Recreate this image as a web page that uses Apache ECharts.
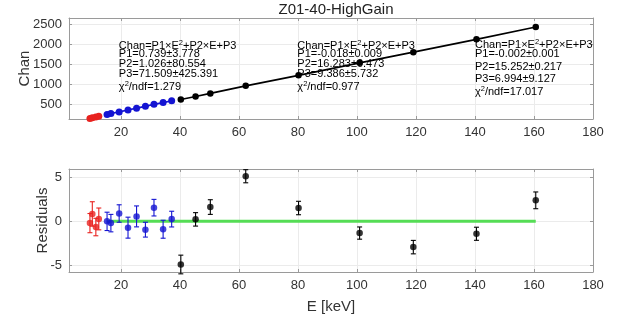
<!DOCTYPE html>
<html>
<head>
<meta charset="utf-8">
<script src="https://cdn.jsdelivr.net/npm/echarts@6/dist/echarts.min.js"></script>
<style>
  html, body { margin: 0; padding: 0; background: #fff; }
  #chart { width: 627px; height: 320px; }
</style>
</head>
<body>
<div id="chart"></div>
<script>
// Energy calibration, three quadratic fit ranges (low / mid / high energy)
const redE     = [9.5, 10.3, 11.5, 12.5];
const redChan  = [150, 165, 185, 205];
const redRes   = [-0.2, 0.85, -0.65, 0.28];
const redErr   = [1.1, 1.4, 1.0, 1.25];

const blueE    = [15.3, 16.6, 19.4, 22.4, 25.3, 28.3, 31.2, 34.3, 37.2];
const blueChan = [250, 272, 312, 360, 405, 450, 500, 543, 590];
const blueRes  = [0.0, -0.2, 0.9, -0.72, 0.57, -0.95, 1.57, -0.9, 0.26];
const blueErr  = [1.05, 1.0, 1.0, 1.2, 1.2, 0.85, 0.95, 1.03, 0.9];

const blackE    = [40.3, 45.3, 50.3, 62.3, 80.2, 100.9, 119.1, 140.5, 160.6];
const blackChan = [620, 697, 773, 960, 1222, 1533, 1800, 2118, 2425];
const blackRes  = [-4.94, 0.23, 1.64, 5.17, 1.53, -1.34, -2.95, -1.42, 2.41];
const blackErr  = [1.07, 0.77, 0.84, 0.75, 0.77, 0.7, 0.77, 0.75, 0.96];

// Axis ticks
const eTicks    = [20, 40, 60, 80, 100, 120, 140, 160, 180];
const chanTicks = [500, 1000, 1500, 2000, 2500];
const resTicks  = [-5, 0, 5];

// Fit result texts
const redFit   = ['P1=0.739±3.778', 'P2=1.026±80.554', 'P3=71.509±425.391', '1.279'];
const blueFit  = ['P1=-0.018±0.009', 'P2=16.283±0.473', 'P3=9.386±5.732', '0.977'];
const blackFit = ['P1=-0.002±0.001', 'P2=15.252±0.217', 'P3=6.994±9.127', '17.017'];

const FONT = '"Liberation Sans", Arial, Helvetica, sans-serif';
const RED = '#e8221f', BLUE = '#1414d2', BLACK = '#000000';
const GRID_LINE = '#ebebeb', AXIS_LINE = '#9a9a9a', LABEL = '#333333';

const zip = (a, b) => a.map((v, i) => [v, b[i]]);
const zip3 = (a, b, c) => a.map((v, i) => [v, b[i], c[i]]);

function valueAxis(gridIndex, pos, min, max, ticks, showLabels, extra) {
  return Object.assign({
    type: 'value', gridIndex, position: pos, min, max,
    nameMoveOverlap: false,
    axisLine: { show: true, onZero: false, lineStyle: { color: AXIS_LINE, width: 1 } },
    axisTick: { show: true, inside: true, length: 3, customValues: ticks,
                lineStyle: { color: AXIS_LINE } },
    axisLabel: { show: showLabels, customValues: ticks, color: LABEL, fontSize: 13,
                 fontFamily: FONT, margin: 7, formatter: (v) => String(v) },
    splitLine: { show: showLabels, lineStyle: { color: GRID_LINE, width: 1 } }
  }, extra || {});
}

function errorBars(color) {
  return function (params, api) {
    const x = api.value(0), y = api.value(1), e = api.value(2);
    const lo = api.coord([x, y - e]);
    const hi = api.coord([x, y + e]);
    const w = 2.5;
    const st = { stroke: color, lineWidth: 1.1 };
    return {
      type: 'group',
      children: [
        { type: 'line', shape: { x1: lo[0], y1: lo[1], x2: hi[0], y2: hi[1] }, style: st },
        { type: 'line', shape: { x1: lo[0] - w, y1: lo[1], x2: lo[0] + w, y2: lo[1] }, style: st },
        { type: 'line', shape: { x1: hi[0] - w, y1: hi[1], x2: hi[0] + w, y2: hi[1] }, style: st }
      ]
    };
  };
}

function errSeries(E, R, Err, color) {
  return {
    type: 'custom', xAxisIndex: 2, yAxisIndex: 2,
    renderItem: errorBars(color), data: zip3(E, R, Err),
    encode: { x: 0, y: 1 }, z: 3, silent: true
  };
}
function resPoints(E, R, color) {
  return {
    type: 'scatter', xAxisIndex: 2, yAxisIndex: 2, data: zip(E, R),
    symbol: 'circle', symbolSize: 6.5, itemStyle: { color }, z: 4, silent: true
  };
}
function calLine(E, C, color, size) {
  return {
    type: 'line', xAxisIndex: 0, yAxisIndex: 0, data: zip(E, C),
    symbol: 'circle', symbolSize: size, showSymbol: true,
    lineStyle: { color, width: 1.6 }, itemStyle: { color }, z: 3, silent: true
  };
}

const xMin = 2.4, xMax = 180;

const option = {
  animation: false,
  backgroundColor: '#ffffff',
  title: {
    text: 'Z01-40-HighGain', left: 331, top: -3, textAlign: 'center',
    textStyle: { fontFamily: FONT, fontSize: 15, fontWeight: 'normal', color: '#222' }
  },
  grid: [
    { left: 69, right: 34, top: 18, height: 101 },
    { left: 69, right: 34, top: 169, height: 103 }
  ],
  xAxis: [
    valueAxis(0, 'bottom', xMin, xMax, eTicks, true),
    valueAxis(0, 'top', xMin, xMax, eTicks, false),
    valueAxis(1, 'bottom', xMin, xMax, eTicks, true, {
      name: 'E [keV]', nameLocation: 'middle', nameGap: 27,
      nameTextStyle: { fontFamily: FONT, fontSize: 15, color: '#333' }
    }),
    valueAxis(1, 'top', xMin, xMax, eTicks, false)
  ],
  yAxis: [
    valueAxis(0, 'left', 135, 2650, chanTicks, true, {
      name: 'Chan', nameLocation: 'middle', nameGap: 37,
      nameTextStyle: { fontFamily: FONT, fontSize: 15, color: '#333' }
    }),
    valueAxis(0, 'right', 135, 2650, chanTicks, false),
    valueAxis(1, 'left', -5.8, 6.0, resTicks, true, {
      name: 'Residuals', nameLocation: 'middle', nameGap: 19,
      nameTextStyle: { fontFamily: FONT, fontSize: 15, color: '#333' }
    }),
    valueAxis(1, 'right', -5.8, 6.0, resTicks, false)
  ],
  series: [
    calLine(redE, redChan, RED, 7),
    calLine(blueE, blueChan, BLUE, 7),
    calLine(blackE, blackChan, BLACK, 6.5),
    // zero reference line across the fitted range
    {
      type: 'line', xAxisIndex: 2, yAxisIndex: 2,
      data: [[blueE[0], 0], [blackE[blackE.length - 1], 0]],
      symbol: 'none', lineStyle: { color: '#55dd55', width: 3 }, z: 2, silent: true
    },
    errSeries(redE, redRes, redErr, RED),
    errSeries(blueE, blueRes, blueErr, BLUE),
    errSeries(blackE, blackRes, blackErr, BLACK),
    resPoints(redE, redRes, RED),
    resPoints(blueE, blueRes, BLUE),
    resPoints(blackE, blackRes, BLACK)
  ]
};

const chart = echarts.init(document.getElementById('chart'), null, { renderer: 'canvas' });
chart.setOption(option);

// Fit-parameter boxes, anchored in data coordinates of the upper panel
const richStyles = (color) => ({
  t: { fontFamily: FONT, fontSize: 11, color },
  s: { fontFamily: FONT, fontSize: 7.5, color, verticalAlign: 'top', padding: [0, 0, 6, 0] }
});
function fitBlock(anchor, params, color, offsets) {
  const p = chart.convertToPixel({ gridIndex: 0 }, anchor);
  const lines = [
    '{t|Chan=P1×E}{s|2}{t|+P2×E+P3}',
    '{t|' + params[0] + '}',
    '{t|' + params[1] + '}',
    '{t|' + params[2] + '}',
    '{t|χ}{s|2}{t|/ndf=' + params[3] + '}'
  ];
  return lines.map((txt, i) => ({
    type: 'text', x: p[0], y: p[1] + offsets[i], silent: true, z: 10,
    style: { text: txt, rich: richStyles(color), verticalAlign: 'middle', align: 'left' }
  }));
}

chart.setOption({
  graphic: [].concat(
    fitBlock([19.3, 1960], redFit, '#c23a3a', [0, 8.5, 18.5, 28.5, 41]),
    fitBlock([79.8, 1960], blueFit, '#3434a6', [0, 8.5, 18.5, 28.5, 41.5]),
    fitBlock([140, 1975], blackFit, '#1e1e1e', [0, 9, 22, 34, 46.5])
  )
});
</script>
</body>
</html>
